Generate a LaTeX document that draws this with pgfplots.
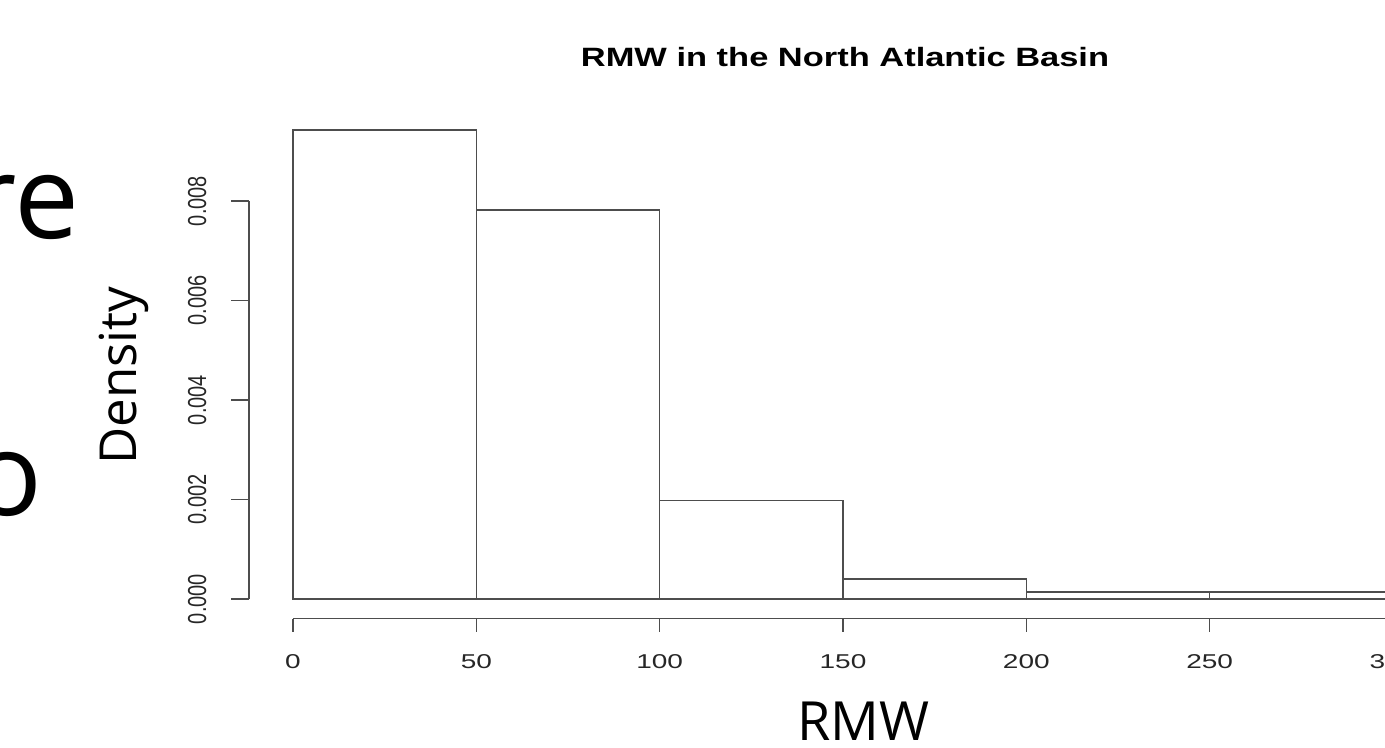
\documentclass[border=0pt]{standalone}
\usepackage{fontspec}
\setmainfont{Liberation Sans}
\newfontfamily\osans{Open Sans}
\usepackage{pgfplots}
\pgfplotsset{compat=1.18}
\definecolor{rline}{HTML}{4D4D4D}
\begin{document}
\begin{tikzpicture}[x=1pt,y=1pt]
\useasboundingbox (0,0) rectangle (692.5,374);
\clip (0,0) rectangle (692.5,374);
% slide text behind
\node[font=\osans\fontsize{58}{60}\selectfont, anchor=base east, inner sep=0pt] at (40,254.5) {re};
\node[font=\osans\fontsize{58}{60}\selectfont, anchor=base east, inner sep=0pt] at (21.5,116) {o};
\node[font=\osans\fontsize{25.5}{27}\selectfont, rotate=90, anchor=base, inner sep=0pt] at (68,186.25) {Density};
\node[font=\osans\fontsize{27}{29}\selectfont, anchor=base, inner sep=0pt] at (431.75,3.5) {RMW};
% R title
\node[font=\bfseries\fontsize{13.25}{15}\selectfont, xscale=1.3, anchor=base, inner sep=0pt] at (422.5,340.5) {RMW in the North Atlantic Basin};
\begin{axis}[at={(146.5pt,74.5pt)}, anchor=south west, scale only axis,
  width=550pt, height=248.75pt, xmin=0, xmax=300, ymin=0, ymax=0.01,
  axis lines=none, clip=false]
\addplot[ybar interval, draw=rline, fill=white, line width=0.7pt] coordinates {
 (0,0.00943) (50,0.00782) (100,0.00198) (150,0.0004) (200,0.00014) (250,0.00014) (300,0.00014)};
% x axis (R style, detached)
\draw[rline, line width=0.7pt] ([yshift=-9.85pt]axis cs:0,0) -- ([yshift=-9.85pt]axis cs:300,0);
\pgfplotsinvokeforeach{0,50,100,150,200,250,300}{
  \draw[rline, line width=0.7pt] ([yshift=-9.85pt]axis cs:#1,0) -- ++(0,-6.5pt);
  \node[font=\fontsize{10}{12}\selectfont, xscale=1.4, anchor=base, inner sep=0pt, text=black!85] at ([yshift=-35pt]axis cs:#1,0) {#1};
}
% y axis
\draw[rline, line width=0.7pt] ([xshift=-22pt]axis cs:0,0) -- ([xshift=-22pt]axis cs:0,0.008);
\pgfplotsinvokeforeach{0,0.002,0.004,0.006,0.008}{
  \draw[rline, line width=0.7pt] ([xshift=-22pt]axis cs:0,#1) -- ++(-9pt,0);
}
\node[font=\fontsize{10}{12}\selectfont, xscale=1.3, rotate=90, anchor=base, inner sep=0pt, text=black!85] at ([xshift=-43.5pt]axis cs:0,0) {0.000};
\node[font=\fontsize{10}{12}\selectfont, xscale=1.3, rotate=90, anchor=base, inner sep=0pt, text=black!85] at ([xshift=-43.5pt]axis cs:0,0.002) {0.002};
\node[font=\fontsize{10}{12}\selectfont, xscale=1.3, rotate=90, anchor=base, inner sep=0pt, text=black!85] at ([xshift=-43.5pt]axis cs:0,0.004) {0.004};
\node[font=\fontsize{10}{12}\selectfont, xscale=1.3, rotate=90, anchor=base, inner sep=0pt, text=black!85] at ([xshift=-43.5pt]axis cs:0,0.006) {0.006};
\node[font=\fontsize{10}{12}\selectfont, xscale=1.3, rotate=90, anchor=base, inner sep=0pt, text=black!85] at ([xshift=-43.5pt]axis cs:0,0.008) {0.008};
\end{axis}
\end{tikzpicture}
\end{document}
